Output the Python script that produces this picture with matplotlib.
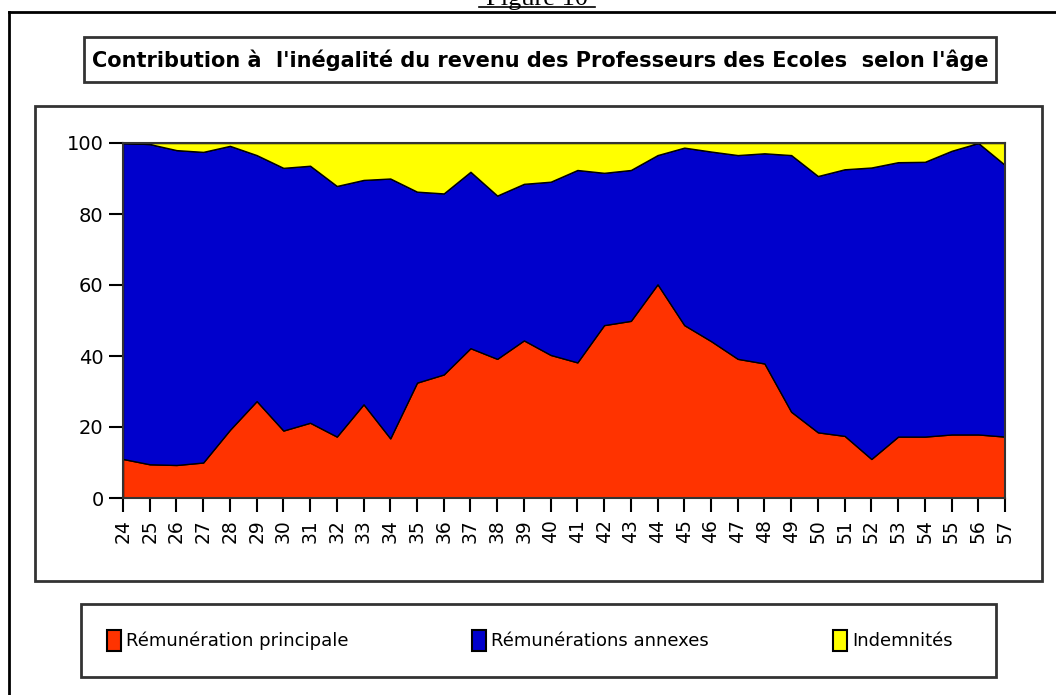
import matplotlib
matplotlib.use("Agg")
import matplotlib.pyplot as plt
from matplotlib.patches import Rectangle
from matplotlib.lines import Line2D

# data (percent, by age)
ages = list(range(24, 58))
principale = [11, 9.5, 9.3, 10, 19.2, 27.3, 19, 21.2, 17.3, 26.4, 16.8, 32.5,
              34.8, 42.2, 39.2, 44.4, 40.3, 38.2, 48.7, 49.9, 60.2, 48.7, 44.2,
              39.2, 37.9, 24.3, 18.5, 17.5, 11, 17.3, 17.3, 17.9, 17.9, 17.3]
# top of the blue band (principale + annexes)
cumul = [100, 99.7, 98, 97.5, 99.2, 96.6, 93, 93.6, 87.9, 89.6, 90, 86.3,
         85.8, 91.9, 85.2, 88.5, 89.1, 92.4, 91.6, 92.4, 96.6, 98.7, 97.6,
         96.6, 97.1, 96.6, 90.7, 92.6, 93.1, 94.6, 94.7, 97.8, 100, 93.8]
annexes = [c - p for c, p in zip(cumul, principale)]
indemnites = [100 - c for c in cumul]

labels = ["Rémunération principale", "Rémunérations annexes", "Indemnités"]
colors = ["#FF3300", "#0000CC", "#FFFF00"]
title = "Contribution à  l'inégalité du revenu des Professeurs des Ecoles  selon l'âge"

W, H = 1056, 695
fig = plt.figure(figsize=(W / 100, H / 100), dpi=100)


def fx(x):
    return x / W


def fy(y):
    return 1 - y / H


def box(x0, y0, x1, y1, lw=2, ec="#333333"):
    fig.add_artist(Rectangle((fx(x0), fy(y1)), fx(x1) - fx(x0), fy(y0) - fy(y1),
                             transform=fig.transFigure, fill=False, ec=ec, lw=lw))


# page frame and "Figure 10" caption (cut at the top, as in the scan)
fig.add_artist(Line2D([fx(9), 1], [fy(12), fy(12)], transform=fig.transFigure, color="black", lw=2))
fig.add_artist(Line2D([fx(9), fx(9)], [fy(12), 0], transform=fig.transFigure, color="black", lw=2))
fig.text(fx(537), fy(5), "Figure 10", ha="center", va="baseline",
         family="Liberation Serif", fontsize=19)
fig.add_artist(Line2D([fx(479), fx(595)], [fy(7), fy(7)], transform=fig.transFigure, color="black", lw=1.2))

# title box
box(84, 37, 996, 82)
fig.text(fx(540), fy(60), title, ha="center", va="center", fontsize=15, fontweight="bold")

# chart box
box(35, 106, 1042, 581)

ax = fig.add_axes([fx(123), fy(498), fx(1005) - fx(123), fy(143) - fy(498)])
ax.stackplot(ages, principale, annexes, indemnites, colors=colors,
             edgecolor="black", linewidth=1)
ax.set_xlim(24, 57)
ax.set_ylim(0, 100)
ax.set_yticks([0, 20, 40, 60, 80, 100])
ax.set_xticks(ages)
ax.set_xticklabels([str(a) for a in ages], rotation=90, fontsize=13.5)
ax.tick_params(axis="y", direction="out", length=10, width=1.5, labelsize=14, pad=4)
ax.tick_params(axis="x", direction="out", length=10, width=1.5, pad=5)
for s in ax.spines.values():
    s.set_linewidth(1.5)
    s.set_color("#333333")

# legend box
box(81, 604, 996, 677)
patch_x = [107, 472, 833]
for lab, col, px in zip(labels, colors, patch_x):
    fig.add_artist(Rectangle((fx(px), fy(651)), fx(14), fy(630) - fy(651),
                             transform=fig.transFigure, fc=col, ec="black", lw=1.5))
    fig.text(fx(px + 19), fy(641), lab, ha="left", va="center", fontsize=13)

fig.savefig("out.png", dpi=100)
